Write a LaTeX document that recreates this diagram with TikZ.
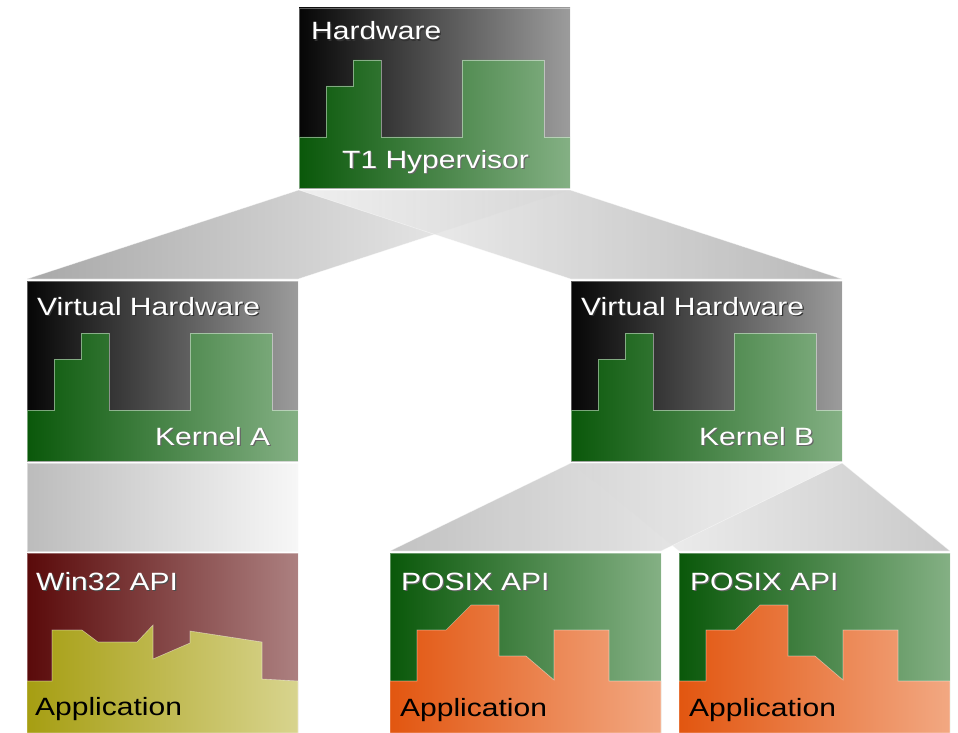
\documentclass[tikz,border=0pt]{standalone}
\usepackage{fontspec}
\setmainfont{Liberation Sans}[FakeStretch=1.2]

% box fills
\definecolor{hwL}{RGB}{6,6,6}
\definecolor{hwM}{RGB}{66,66,66}
\definecolor{hwR}{RGB}{156,156,156}
\definecolor{krL}{RGB}{10,88,10}
\definecolor{krM}{RGB}{64,126,64}
\definecolor{krR}{RGB}{132,176,132}
\definecolor{wnL}{RGB}{90,10,10}
\definecolor{wnM}{RGB}{126,64,64}
\definecolor{wnR}{RGB}{172,128,128}
\definecolor{apL}{RGB}{166,158,18}
\definecolor{apM}{RGB}{192,186,82}
\definecolor{apR}{RGB}{216,212,142}
\definecolor{orL}{RGB}{226,86,16}
\definecolor{orM}{RGB}{234,126,72}
\definecolor{orR}{RGB}{242,168,130}
% connector fills
\definecolor{cnDark}{RGB}{168,168,168}
\definecolor{cnMid}{RGB}{234,234,234}
\definecolor{cnLight}{RGB}{247,247,247}
\definecolor{cnSoft}{RGB}{188,188,188}

\newcommand\shadowed[2]{\makebox[0pt][l]{\hspace*{1.2pt}\raisebox{-1.2pt}{\textcolor{#1}{#2}}}#2}

\tikzset{
  box/.style={rectangle, minimum width=271pt, minimum height=180pt,
    inner sep=0pt, outer sep=0pt, draw=white, draw opacity=0.35, line width=0.7pt},
  hwshade/.style={left color=hwL, middle color=hwM, right color=hwR},
  krshade/.style={left color=krL, middle color=krM, right color=krR},
  wnshade/.style={left color=wnL, middle color=wnM, right color=wnR},
  apshade/.style={left color=apL, middle color=apM, right color=apR},
  orshade/.style={left color=orL, middle color=orM, right color=orR},
  edge/.style={draw=white, draw opacity=0.45, line width=0.6pt},
  lbl/.style={text=white, font=\fontsize{25}{30}\selectfont,
    inner sep=0pt, anchor=base west},
  dlbl/.style={text=black, font=\fontsize{25}{30}\selectfont,
    inner sep=0pt, anchor=base west},
  linkout/.style={left color=cnDark, middle color=cnMid, right color=cnLight},
  linkin/.style={left color=cnLight, middle color=cnMid, right color=cnDark},
  % stepped bars of a hardware layer
  kernelbars/.pic={
    \path[krshade, edge] (0,129) -- (27,129) -- (27,78) -- (54,78) -- (54,52)
      -- (82,52) -- (82,129) -- (163,129) -- (163,52) -- (245,52) -- (245,129)
      -- (271,129) -- (271,180) -- (0,180) -- cycle;
  },
  % application skyline on a Win32 layer
  winbars/.pic={
    \path[apshade, edge] (0,128) -- (25,128) -- (25,77) -- (55,77) -- (71,89)
      -- (110,89) -- (126,72) -- (126,106) -- (163,90) -- (163,78) -- (235,89)
      -- (235,126) -- (271,128) -- (271,180) -- (0,180) -- cycle;
  },
  % application skyline on a POSIX layer
  posixbars/.pic={
    \path[orshade, edge] (0,128) -- (27,128) -- (27,77) -- (56,77) -- (81,52)
      -- (109,52) -- (109,103) -- (136,103) -- (164,127) -- (164,77)
      -- (219,77) -- (219,128) -- (271,128) -- (271,180) -- (0,180) -- cycle;
  },
}

\begin{document}
\begin{tikzpicture}[x=1pt, y=-1pt]
\useasboundingbox[fill=white] (0,0) rectangle (958,733);

% layer boxes
\node[box, hwshade] (hw) at (434.5,98) {};
\node[box, hwshade] (vl) at (162.5,371) {};
\node[box, hwshade] (vr) at (706.5,371) {};
\node[box, wnshade] (wa) at (162.5,643) {};
\node[box, krshade] (pa) at (525.5,643) {};
\node[box, krshade] (pb) at (814.5,643) {};

% connectors between layers
\path[linkout, edge] ([shift={(0,2)}]hw.south west) -- ([shift={(0,2)}]hw.south east)
  -- ([shift={(0,-2)}]vl.north east) -- ([shift={(0,-2)}]vl.north west) -- cycle;
\path[linkin, edge, fill opacity=0.8] ([shift={(0,2)}]hw.south west) -- ([shift={(0,2)}]hw.south east)
  -- ([shift={(0,-2)}]vr.north east) -- ([shift={(0,-2)}]vr.north west) -- cycle;
\path[left color=cnSoft, middle color=cnMid, right color=cnLight, edge]
  ([shift={(0,2)}]vl.south west) rectangle ([shift={(0,-2)}]wa.north east);
\path[left color=cnLight, middle color=cnMid, right color=cnSoft!80!white, edge]
  ([shift={(0,2)}]vr.south west) -- ([shift={(0,2)}]vr.south east)
  -- ([shift={(0,-2)}]pb.north east) -- ([shift={(0,-2)}]pb.north west) -- cycle;
\path[left color=cnSoft, middle color=cnMid, right color=cnLight, edge, fill opacity=0.9]
  ([shift={(0,2)}]vr.south west) -- ([shift={(0,2)}]vr.south east)
  -- ([shift={(0,-2)}]pa.north east) -- ([shift={(0,-2)}]pa.north west) -- cycle;

% inner shapes
\pic at (hw.north west) {kernelbars};
\pic at (vl.north west) {kernelbars};
\pic at (vr.north west) {kernelbars};
\pic at (wa.north west) {winbars};
\pic at (pa.north west) {posixbars};
\pic at (pb.north west) {posixbars};

% labels
\node[lbl] (hwt) at ([shift={(12,32)}]hw.north west) {\shadowed{black!80}{Hardware}};
\node[lbl] (hwb) at ([shift={(43,160)}]hw.north west) {\shadowed{black!60}{T1 Hypervisor}};
\node[lbl] (vlt) at ([shift={(10,34)}]vl.north west) {\shadowed{black!80}{Virtual Hardware}};
\node[lbl] (vlb) at ([shift={(128,164)}]vl.north west) {\shadowed{black!60}{Kernel A}};
\node[lbl] (vrt) at ([shift={(10,34)}]vr.north west) {\shadowed{black!80}{Virtual Hardware}};
\node[lbl] (vrb) at ([shift={(128,164)}]vr.north west) {\shadowed{black!60}{Kernel B}};
\node[lbl] (wat) at ([shift={(9,37)}]wa.north west) {\shadowed{black!70}{Win32 API}};
\node[dlbl] (wab) at ([shift={(8,162)}]wa.north west) {Application};
\node[lbl] (pat) at ([shift={(11,37)}]pa.north west) {\shadowed{black!60}{POSIX API}};
\node[dlbl] (pab) at ([shift={(10,163)}]pa.north west) {Application};
\node[lbl] (pbt) at ([shift={(11,37)}]pb.north west) {\shadowed{black!60}{POSIX API}};
\node[dlbl] (pbb) at ([shift={(10,163)}]pb.north west) {Application};
\end{tikzpicture}
\end{document}
